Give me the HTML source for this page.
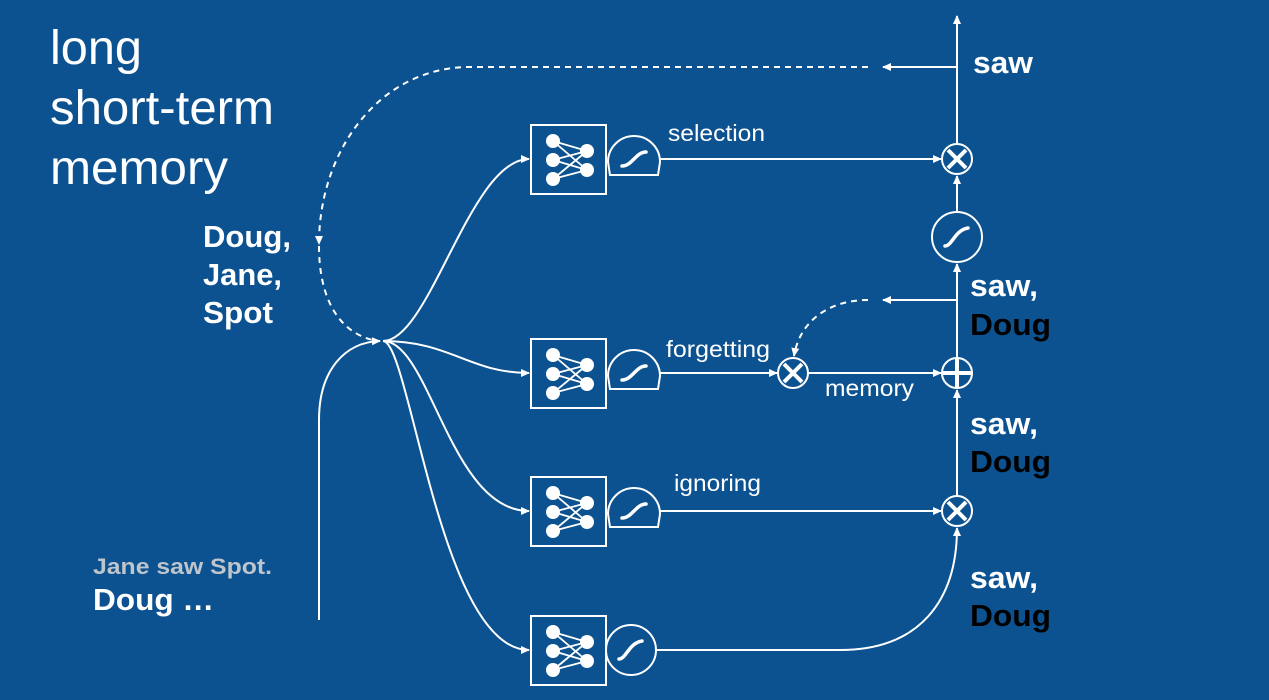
<!DOCTYPE html>
<html><head><meta charset="utf-8"><style>
html,body{margin:0;padding:0;background:#0c5290;}
svg{display:block;}
text{font-family:"Liberation Sans",Arial,sans-serif;}
</style></head><body>
<svg width="1269" height="700" viewBox="0 0 1269 700" xmlns="http://www.w3.org/2000/svg">
<defs>
<marker id="ar" markerWidth="10" markerHeight="10" refX="8" refY="5" orient="auto" markerUnits="userSpaceOnUse">
<path d="M0,1 L9,5 L0,9 Z" fill="#fff"/></marker>
<g id="nn">
<rect x="0" y="0" width="75" height="69" fill="none" stroke="#fff" stroke-width="2"/>
<g stroke="#fff" stroke-width="1.8">
<line x1="22" y1="16" x2="56" y2="26"/><line x1="22" y1="16" x2="56" y2="45"/>
<line x1="22" y1="35" x2="56" y2="26"/><line x1="22" y1="35" x2="56" y2="45"/>
<line x1="22" y1="54" x2="56" y2="26"/><line x1="22" y1="54" x2="56" y2="45"/>
</g>
<g fill="#fff"><circle cx="22" cy="16" r="7"/><circle cx="22" cy="35" r="7"/><circle cx="22" cy="54" r="7"/>
<circle cx="56" cy="26" r="7"/><circle cx="56" cy="45" r="7"/></g>
</g>
<g id="dome">
<path d="M0,38 A26,26 0 0 1 52,38 L50,51 L2,51 Z" fill="none" stroke="#fff" stroke-width="2"/>
<path d="M14,42 C24,42 28,28 38,28" fill="none" stroke="#fff" stroke-width="3.5" stroke-linecap="round"/>
</g>
<g id="times">
<circle cx="0" cy="0" r="15" fill="none" stroke="#fff" stroke-width="2"/>
<line x1="-9" y1="-9" x2="9" y2="9" stroke="#fff" stroke-width="4"/>
<line x1="-9" y1="9" x2="9" y2="-9" stroke="#fff" stroke-width="4"/>
</g>
</defs>
<rect width="1269" height="700" fill="#0c5290"/>

<g fill="#fff" font-size="48">
<text x="50" y="64" textLength="92" lengthAdjust="spacingAndGlyphs">long</text>
<text x="50" y="124" textLength="224" lengthAdjust="spacingAndGlyphs">short-term</text>
<text x="50" y="184" textLength="178" lengthAdjust="spacingAndGlyphs">memory</text>
</g>
<g fill="#fff" font-size="31" font-weight="bold">
<text x="203" y="247" textLength="88" lengthAdjust="spacingAndGlyphs">Doug,</text>
<text x="203" y="285" textLength="79" lengthAdjust="spacingAndGlyphs">Jane,</text>
<text x="203" y="323" textLength="70" lengthAdjust="spacingAndGlyphs">Spot</text>
</g>
<text x="93" y="574" fill="#bfc5cc" font-size="22" font-weight="bold" textLength="179" lengthAdjust="spacingAndGlyphs">Jane saw Spot.</text>
<text x="93" y="610" fill="#fff" font-size="31" font-weight="bold" textLength="121" lengthAdjust="spacingAndGlyphs">Doug …</text>

<g font-size="31" font-weight="bold">
<text x="973" y="73" fill="#fff" textLength="60" lengthAdjust="spacingAndGlyphs">saw</text>
<text x="970" y="296" fill="#fff" textLength="68" lengthAdjust="spacingAndGlyphs">saw,</text><text x="970" y="335" fill="#000" textLength="81" lengthAdjust="spacingAndGlyphs">Doug</text>
<text x="970" y="434" fill="#fff" textLength="68" lengthAdjust="spacingAndGlyphs">saw,</text><text x="970" y="472" fill="#000" textLength="81" lengthAdjust="spacingAndGlyphs">Doug</text>
<text x="970" y="588" fill="#fff" textLength="68" lengthAdjust="spacingAndGlyphs">saw,</text><text x="970" y="626" fill="#000" textLength="81" lengthAdjust="spacingAndGlyphs">Doug</text>
</g>
<g fill="#fff" font-size="23">
<text x="668" y="141" textLength="97" lengthAdjust="spacingAndGlyphs">selection</text>
<text x="666" y="357" textLength="104" lengthAdjust="spacingAndGlyphs">forgetting</text>
<text x="825" y="396" textLength="89" lengthAdjust="spacingAndGlyphs">memory</text>
<text x="674" y="491" textLength="87" lengthAdjust="spacingAndGlyphs">ignoring</text>
</g>

<g fill="none" stroke="#fff" stroke-width="2">
<path d="M319,620 L319,420 C319,370 345,342 380,341" marker-end="url(#ar)"/>
<path d="M383,341 C430,341 470,159 529,159" marker-end="url(#ar)"/>
<path d="M383,341 C450,341 470,373 529,373" marker-end="url(#ar)"/>
<path d="M383,341 C430,341 450,511 529,511" marker-end="url(#ar)"/>
<path d="M383,341 C410,341 440,650 529,650" marker-end="url(#ar)"/>
<line x1="660" y1="159" x2="941" y2="159" marker-end="url(#ar)"/>
<line x1="660" y1="373" x2="777" y2="373" marker-end="url(#ar)"/>
<line x1="808" y1="373" x2="941" y2="373" marker-end="url(#ar)"/>
<line x1="660" y1="511" x2="941" y2="511" marker-end="url(#ar)"/>
<path d="M656,650 L840,650 C920,650 957,600 957,528" marker-end="url(#ar)"/>
<line x1="957" y1="496" x2="957" y2="390" marker-end="url(#ar)"/>
<line x1="957" y1="358" x2="957" y2="264" marker-end="url(#ar)"/>
<line x1="957" y1="212" x2="957" y2="176" marker-end="url(#ar)"/>
<line x1="957" y1="144" x2="957" y2="16" marker-end="url(#ar)"/>
<line x1="957" y1="67" x2="883" y2="67" marker-end="url(#ar)"/>
<line x1="957" y1="300" x2="883" y2="300" marker-end="url(#ar)"/>
<g stroke-dasharray="6,5">
<path d="M868,67 L470,67 C380,67 319,150 319,244" marker-end="url(#ar)"/>
<path d="M319,246 C319,300 340,335 378,341"/>
<path d="M868,300 C830,300 800,320 794,356" marker-end="url(#ar)"/>
</g>
<circle cx="957" cy="237" r="25"/>
<circle cx="957" cy="373" r="15"/>
<circle cx="631" cy="650" r="25"/>
</g>
<path d="M945,246 C952,246 955,230 968,228" fill="none" stroke="#fff" stroke-width="3.5" stroke-linecap="round"/>
<path d="M619,659 C626,659 629,643 642,641" fill="none" stroke="#fff" stroke-width="3.5" stroke-linecap="round"/>
<line x1="957" y1="359" x2="957" y2="387" stroke="#fff" stroke-width="4"/>
<line x1="943" y1="373" x2="971" y2="373" stroke="#fff" stroke-width="4"/>

<use href="#nn" x="531" y="125"/>
<use href="#nn" x="531" y="339"/>
<use href="#nn" x="531" y="477"/>
<use href="#nn" x="531" y="616"/>
<use href="#dome" x="608" y="124"/>
<use href="#dome" x="608" y="338"/>
<use href="#dome" x="608" y="476"/>
<use href="#times" x="957" y="159"/>
<use href="#times" x="957" y="511"/>
<use href="#times" x="793" y="373"/>
</svg>
</body></html>
